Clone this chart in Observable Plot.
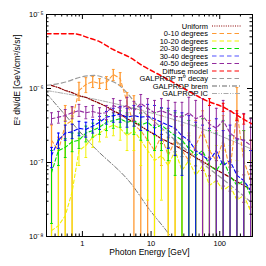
<!DOCTYPE html>
<html><head><meta charset="utf-8">
<script src="https://cdn.jsdelivr.net/npm/d3@7"></script>
<script src="https://cdn.jsdelivr.net/npm/@observablehq/plot@0.6"></script>
<style>body{margin:0;background:#fff} svg{display:block}</style>
</head><body><div id="chart"></div>
<script>
const FONT = "Liberation Sans, Arial, Helvetica, sans-serif";
const UNIT = 1e-7; // values below are in units of 1e-7 GeV/cm^2/s/sr

const energies = [0.355,0.447,0.562,0.708,0.891,1.122,1.413,1.778,2.239,2.818,3.548,4.467,5.623,7.079,8.913,11.22,14.13,17.78,22.39,28.18,35.48,44.67,56.23,70.79,89.13,112.2,141.3,177.8,223.9,281.8];

const orangeVal = [2.0,1.45,3.2,3.7,9.4,11.3,12.4,11.7,12.1,15.5,13.6,6.5,3.2,2.7,2.0,1.45,2.3,1.24,2.0,1.45,1.06,1.7,2.7,1.45,1.06,2.0,0.78,5.0,1.06,0.57];
const orangeHi  = [3.2,2.2,5.9,5.5,12.1,14.0,14.5,13.6,14.5,18.1,16.4,8.8,8.0,5.0,4.3,3.7,4.3,2.7,3.7,3.2,2.3,3.7,5.0,3.7,2.7,4.3,2.0,10.3,2.7,2.0];
const orangeLo  = [0.01,0.01,0.01,0.01,6.9,8.8,10.3,10.0,9.7,12.8,11.0,4.3,0.01,0.01,0.01,0.01,0.91,0.01,0.01,0.01,0.01,0.01,0.01,0.01,0.01,0.01,0.01,0.01,0.01,0.01];

const yellowVal = [0.12,0.14,0.19,0.4,1.45,1.7,2.2,2.5,2.9,3.2,2.9,2.3,2.7,2.0,1.45,1.06,1.24,0.91,1.45,0.78,1.06,0.67,0.91,0.49,0.57,0.42,0.49,0.31,0.36,0.22];
const yellowHi  = [1.0,1.45,3.7,4.3,2.1,2.3,2.9,3.2,3.7,4.2,3.9,3.5,4.3,3.5,2.7,2.3,2.7,2.1,2.9,2.0,2.5,1.7,2.3,1.45,1.7,1.45,1.7,1.06,1.45,1.06];
const yellowLo  = [0.01,0.01,0.01,0.01,0.91,1.17,1.6,1.9,2.2,2.3,2.0,1.45,1.45,0.91,0.31,0.01,0.31,0.01,0.01,0.01,0.01,0.01,0.01,0.01,0.01,0.01,0.01,0.01,0.01,0.01];

const greenVal = [0.73,1.45,1.6,1.9,2.0,2.5,2.7,3.0,3.5,3.7,3.9,3.5,3.7,3.2,3.5,2.9,3.2,2.7,2.3,2.0,1.55,1.24,1.45,0.91,0.78,1.06,0.67,0.49,0.57,0.36];
const greenHi  = [1.45,2.0,2.1,2.5,2.5,3.1,3.4,3.7,4.3,4.7,5.0,4.7,5.4,4.7,5.4,4.7,5.4,5.0,4.7,4.3,3.7,3.2,3.9,2.7,2.5,3.7,2.3,2.0,2.7,1.45];
const greenLo  = [0.15,0.91,1.17,1.4,1.55,1.9,2.2,2.4,2.7,2.9,3.0,2.5,2.4,2.0,2.0,1.45,1.45,1.06,0.67,0.01,0.01,0.01,0.01,0.01,0.01,0.01,0.01,0.01,0.01,0.01];

const blueVal = [1.24,2.0,2.5,2.6,2.9,2.8,3.1,3.5,4.1,4.3,4.5,4.1,4.3,4.1,4.2,3.9,3.5,3.2,2.9,2.3,2.0,1.45,1.24,1.06,1.45,0.91,1.06,0.67,0.57,0.42];
const blueHi  = [1.6,2.5,3.2,3.3,3.6,3.5,3.8,4.2,4.9,5.4,5.7,5.4,5.9,5.7,6.1,5.9,5.5,5.4,5.0,4.7,4.3,3.5,3.2,2.9,3.9,2.7,3.2,2.1,2.0,1.45];
const blueLo  = [0.85,1.55,2.0,2.1,2.3,2.2,2.5,2.8,3.3,3.5,3.5,3.0,3.1,2.7,2.7,2.4,2.0,1.55,1.24,0.67,0.01,0.01,0.01,0.01,0.01,0.01,0.01,0.01,0.01,0.01];

const purpleVal = [3.9,4.1,4.3,4.7,5.0,4.7,4.9,4.6,4.7,5.9,5.4,5.9,5.0,6.3,5.4,4.7,5.0,4.6,4.2,4.1,4.7,3.9,4.3,3.3,2.9,3.7,2.5,2.1,2.0,1.7];
const purpleHi  = [4.7,4.9,5.2,5.7,6.1,5.7,5.9,5.5,5.9,7.3,6.9,7.6,6.7,8.3,7.3,6.9,7.3,6.9,6.5,6.5,7.6,6.9,7.3,5.9,5.4,6.9,5.0,4.6,4.6,3.9];
const purpleLo  = [3.3,3.4,3.6,3.9,4.2,3.9,4.1,3.8,3.8,4.7,4.2,4.5,3.7,4.6,3.8,3.2,3.3,2.9,2.5,2.1,2.0,1.45,0.01,0.01,0.01,0.01,0.01,0.01,0.01,0.01];

const uniformVal = [11.0,10.3,9.4,8.8,8.0,7.6,6.9,6.3,5.7,5.0,4.5,3.9,3.5,3.1,2.7,2.4,2.1,1.9,1.7,1.5,1.32,1.17,1.03,0.91,0.80,0.71,0.63,0.55,0.49,0.43];
const uniformHi  = [11.2,10.5,9.6,9.0,8.2,7.8,7.1,6.5,5.9,5.2,4.7,4.1,3.7,3.3,2.9,2.6,2.4,2.2,2.0,1.8,1.6,1.45,1.3,1.18,1.06,0.95,0.86,0.76,0.68,0.6];
const uniformLo  = [10.8,10.1,9.2,8.6,7.8,7.4,6.7,6.1,5.5,4.8,4.3,3.7,3.3,2.9,2.5,2.2,1.8,1.6,1.4,1.2,1.05,0.9,0.78,0.66,0.56,0.48,0.41,0.34,0.29,0.25];

const diffuseE = [0.3,0.76,1.18,1.77,2.74,5.02,7.77,13.8,27,62.9,122,183,265,300];
const diffuseV = [55,55,49,43,34,26,20,15,10.6,6.9,5.4,4.3,3.5,3.3];
const diffuseBarE = [70.79,112.2,177.8,223.9];
const diffuseBarV = [6.6,5.6,4.35,3.9];
const diffuseBarLo = [5.9,4.9,3.7,3.3];
const diffuseBarHi = [7.3,6.3,5.0,4.5];
const pionE = [0.3,0.6,0.9,1.5,2.56,3.47,4.54,5.94,13.8,37.6,178,300];
const pionV = [11.0,12.4,14.1,15.0,12.8,11.0,8.6,6.3,3.0,1.32,0.42,0.28];
const bremE = [0.3,1.45,5.55,8.9,19.3,40];
const bremV = [8.6,1.64,0.47,0.25,0.1,0.035];
const icE = [0.3,1.83,9.8,52.5,300];
const icV = [9.4,6.9,4.7,2.9,1.5];

const seriesNames = ["Uniform","0-10 degrees","10-20 degrees","20-30 degrees","30-40 degrees","40-50 degrees"];
const seriesColors = ["#8b0000","#ff9a33","#f2f200","#00e000","#0000ff","#922b9e"];
const seriesData = [
  [uniformVal, uniformLo, uniformHi],
  [orangeVal, orangeLo, orangeHi],
  [yellowVal, yellowLo, yellowHi],
  [greenVal, greenLo, greenHi],
  [blueVal, blueLo, blueHi],
  [purpleVal, purpleLo, purpleHi]
];

const legendLabels = ["Uniform","0-10 degrees","10-20 degrees","20-30 degrees","30-40 degrees","40-50 degrees","Diffuse model","GALPROP \u03c0\u2070 decay","GALPROP brem","GALPROP IC"];
const legendColors = ["#8b0000","#ff9a33","#f2f200","#00e000","#5050ff","#922b9e","#ff0000","#999999","#666666","#aaaaaa"];
const legendDash = ["1,1.3","4.5,3","4.5,3","4.5,3","4.5,3","4.5,3","4.5,3","4.5,3","5,2,1,2","5,1.5,1,1.5,1,1.5"];

const xMajor = [1,10,100];
const xMajorLabels = ["1","10","100"];
const xMinor = [0.3,0.4,0.5,0.6,0.7,0.8,0.9,2,3,4,5,6,7,8,9,20,30,40,50,60,70,80,90,200,300];
const yMajor = [1e-8,1e-7,1e-6,1e-5];
const yMajorLabels = ["10\u207b\u2078","10\u207b\u2077","10\u207b\u2076","10\u207b\u2075"];
const yMinorMult = [2,3,4,5,6,7,8,9];
const yMinor = [];
for (const d of [1e-8,1e-7,1e-6]) for (const m of yMinorMult) yMinor.push(d*m);

const W = 266, H = 266, mL = 46, mR = 14, mT = 14, mB = 30;
const pw = W - mL - mR, ph = H - mT - mB;
const capF = Math.pow(10, 1.4/68.5);

const marks = [];
const models = [
  {E: icE, V: icV, stroke: "#aaaaaa", dash: "5,1.5,1,1.5,1,1.5", w: 1},
  {E: bremE, V: bremV, stroke: "#777777", dash: "5,2,1,2", w: 1},
  {E: pionE, V: pionV, stroke: "#999999", dash: "4.5,3", w: 1.2}
];
for (const m of models) {
  const rows = m.E.map((e,i)=>({E:e, v:m.V[i]*UNIT}));
  marks.push(Plot.line(rows, {x:"E", y:"v", stroke:m.stroke, strokeDasharray:m.dash, strokeWidth:m.w, curve:"monotone-x", clip:true}));
}
function errorBars(rows, c, w) {
  return [
    Plot.ruleX(rows, {x:"E", y1:"lo", y2:"hi", stroke:c, strokeWidth:w, clip:true}),
    Plot.link(rows, {x1:d=>d.E/capF, x2:d=>d.E*capF, y1:"hi", y2:"hi", stroke:c, strokeWidth:1, clip:true}),
    Plot.link(rows, {x1:d=>d.E/capF, x2:d=>d.E*capF, y1:"lo", y2:"lo", stroke:c, strokeWidth:1, clip:true})
  ];
}
seriesData.forEach(([val, lo, hi], s) => {
  const rows = energies.map((e,i)=>({E:e, v:val[i]*UNIT, lo:lo[i]*UNIT, hi:hi[i]*UNIT}));
  const c = seriesColors[s];
  if (s === 0) {
    marks.push(Plot.line(rows, {x:"E", y:"v", stroke:c, strokeDasharray:"3,1.5,1,1.5", strokeWidth:1.2, clip:true}));
    marks.push(...errorBars(rows.filter((d,i)=>i>=16), c, 1));
  } else {
    marks.push(Plot.line(rows, {x:"E", y:"v", stroke:c, strokeDasharray:"3.5,2.5", strokeWidth:1.1, clip:true}));
    marks.push(...errorBars(rows, c, s === 1 ? 1.3 : 1));
  }
});
{
  const rows = diffuseE.map((e,i)=>({E:e, v:diffuseV[i]*UNIT}));
  marks.push(Plot.line(rows, {x:"E", y:"v", stroke:"#ff0000", strokeDasharray:"4.5,3", strokeWidth:1.5, curve:"monotone-x", clip:true}));
  const bars = diffuseBarE.map((e,i)=>({E:e, v:diffuseBarV[i]*UNIT, lo:diffuseBarLo[i]*UNIT, hi:diffuseBarHi[i]*UNIT}));
  marks.push(...errorBars(bars, "#ff0000", 1.2));
}
// ticks (inside, all four sides)
marks.push(
  Plot.tickX(xMajor, {x:d=>d, insetTop: ph-5, stroke:"black"}),
  Plot.tickX(xMajor, {x:d=>d, insetBottom: ph-5, stroke:"black"}),
  Plot.tickX(xMinor, {x:d=>d, insetTop: ph-2.5, stroke:"black"}),
  Plot.tickX(xMinor, {x:d=>d, insetBottom: ph-2.5, stroke:"black"}),
  Plot.tickY(yMajor, {y:d=>d, insetRight: pw-5, stroke:"black"}),
  Plot.tickY(yMajor, {y:d=>d, insetLeft: pw-5, stroke:"black"}),
  Plot.tickY(yMinor, {y:d=>d, insetRight: pw-2.5, stroke:"black"}),
  Plot.tickY(yMinor, {y:d=>d, insetLeft: pw-2.5, stroke:"black"}),
  Plot.frame({stroke:"black"}),
  Plot.text(xMajor, {x:d=>d, text:xMajorLabels, frameAnchor:"bottom", dy:9, fontSize:7.5, fill:"black"}),
  Plot.text(yMajor, {y:d=>d, text:yMajorLabels, frameAnchor:"left", dx:-3, textAnchor:"end", fontSize:7.5, fill:"black"}),
  Plot.text(["Photon Energy [GeV]"], {text:d=>d, frameAnchor:"bottom", dy:18, fontSize:8.5, fill:"black"}),
  Plot.text(["E\u00b2 dN/dE [GeV/cm\u00b2/s/sr]"], {text:d=>d, frameAnchor:"left", dx:-29, rotate:-90, fontSize:8.5, fill:"black"})
);

const plot = Plot.plot({
  width: W, height: H,
  marginLeft: mL, marginRight: mR, marginTop: mT, marginBottom: mB,
  style: {fontFamily: FONT, background: "white"},
  x: {type:"log", domain:[0.3, 300], axis:null},
  y: {type:"log", domain:[1e-8, 1e-5], axis:null},
  marks
});

const svg = d3.select(plot);
const lg = svg.append("g").attr("font-family", FONT).attr("font-size", 7.5);
legendLabels.forEach((lab, i) => {
  const y = 26 + i * 7.5;
  lg.append("text").attr("x", 208).attr("y", y).attr("dy", "0.35em").attr("text-anchor", "end").attr("fill", "black").text(lab);
  lg.append("line").attr("x1", 212).attr("x2", 241).attr("y1", y).attr("y2", y)
    .attr("stroke", legendColors[i]).attr("stroke-dasharray", legendDash[i]).attr("stroke-width", 1.2);
});

document.getElementById("chart").appendChild(plot);
</script>
</body></html>
